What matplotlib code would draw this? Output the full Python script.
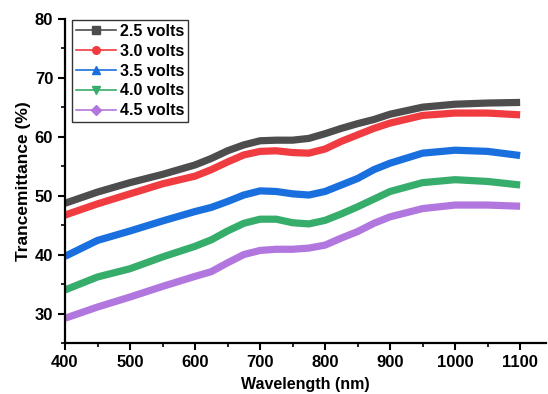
import numpy as np
import matplotlib
matplotlib.use("Agg")
import matplotlib.pyplot as plt
from matplotlib.lines import Line2D

plt.rcParams['font.family'] = ['Liberation Sans', 'DejaVu Sans']
plt.rcParams['font.weight'] = 'bold'

# wavelength (nm)
wavelength = [400, 450, 500, 550, 600, 625, 650, 675, 700, 725, 750, 775, 800,
              825, 850, 875, 900, 950, 1000, 1050, 1100]

# transmittance (%) per applied voltage
t_25 = [48.7, 50.6, 52.2, 53.6, 55.2, 56.3, 57.6, 58.6, 59.3, 59.4, 59.4, 59.7, 60.5,
        61.4, 62.2, 62.9, 63.8, 65.0, 65.5, 65.7, 65.8]
t_30 = [46.7, 48.6, 50.3, 52.0, 53.3, 54.4, 55.7, 56.9, 57.5, 57.6, 57.3, 57.2, 57.9,
        59.2, 60.3, 61.4, 62.3, 63.6, 64.0, 64.0, 63.7]
t_35 = [39.7, 42.4, 44.0, 45.7, 47.3, 48.0, 49.0, 50.1, 50.8, 50.7, 50.3, 50.1, 50.7,
        51.8, 52.9, 54.4, 55.5, 57.2, 57.7, 57.5, 56.8]
t_40 = [34.0, 36.2, 37.6, 39.6, 41.4, 42.5, 44.0, 45.3, 46.0, 46.0, 45.4, 45.2, 45.8,
        46.9, 48.1, 49.4, 50.7, 52.2, 52.7, 52.4, 51.8]
t_45 = [29.2, 31.1, 32.8, 34.6, 36.3, 37.1, 38.6, 40.0, 40.7, 40.9, 40.9, 41.1, 41.6,
        42.8, 43.9, 45.3, 46.4, 47.8, 48.4, 48.4, 48.2]

labels = ["2.5 volts", "3.0 volts", "3.5 volts", "4.0 volts", "4.5 volts"]
series = [t_25, t_30, t_35, t_40, t_45]
colors = ["#4d4d4d", "#f03c40", "#1a6fdf", "#37ad6b", "#b177de"]
markers = ["s", "o", "^", "v", "D"]

fig = plt.figure(figsize=(5.48, 3.94), dpi=100)
ax = fig.add_axes([0.1186, 0.1294, 0.878, 0.8231])

for y, c in zip(series, colors):
    ax.plot(wavelength, y, color=c, lw=5.2, solid_capstyle='butt',
            solid_joinstyle='round')

ax.set_xlim(400, 1140)
ax.set_ylim(25, 80)
ax.set_xticks(np.arange(400, 1101, 100))
ax.set_xticks(np.arange(450, 1101, 100), minor=True)
ax.set_yticks(np.arange(30, 81, 10))
ax.set_yticks(np.arange(25, 81, 10), minor=True)

ax.spines['top'].set_visible(False)
ax.spines['right'].set_visible(False)
for s in ['left', 'bottom']:
    ax.spines[s].set_linewidth(1.6)
ax.tick_params(which='major', direction='out', length=5, width=1.5, labelsize=12)
ax.tick_params(which='minor', direction='out', length=3, width=1.2)
for lbl in ax.get_xticklabels() + ax.get_yticklabels():
    lbl.set_fontweight('bold')

ax.set_xlabel("Wavelength (nm)", fontsize=11.5, fontweight='bold', labelpad=5)
ax.set_ylabel("Trancemittance (%)", fontsize=12.5, fontweight='bold', labelpad=3)

handles = [Line2D([], [], color=c, lw=1.2, marker=m, markersize=5.5, label=l)
           for c, m, l in zip(colors, markers, labels)]
leg = ax.legend(handles=handles, loc='upper left', bbox_to_anchor=(0.0146, 0.996),
                frameon=True, fancybox=False, edgecolor='#333333', framealpha=1,
                prop={'weight': 'bold', 'size': 11.5}, handlelength=2.5,
                handletextpad=0.25, labelspacing=0.3, borderpad=0.25,
                borderaxespad=0)
leg.get_frame().set_linewidth(1.0)

fig.savefig("out.png", dpi=100)
